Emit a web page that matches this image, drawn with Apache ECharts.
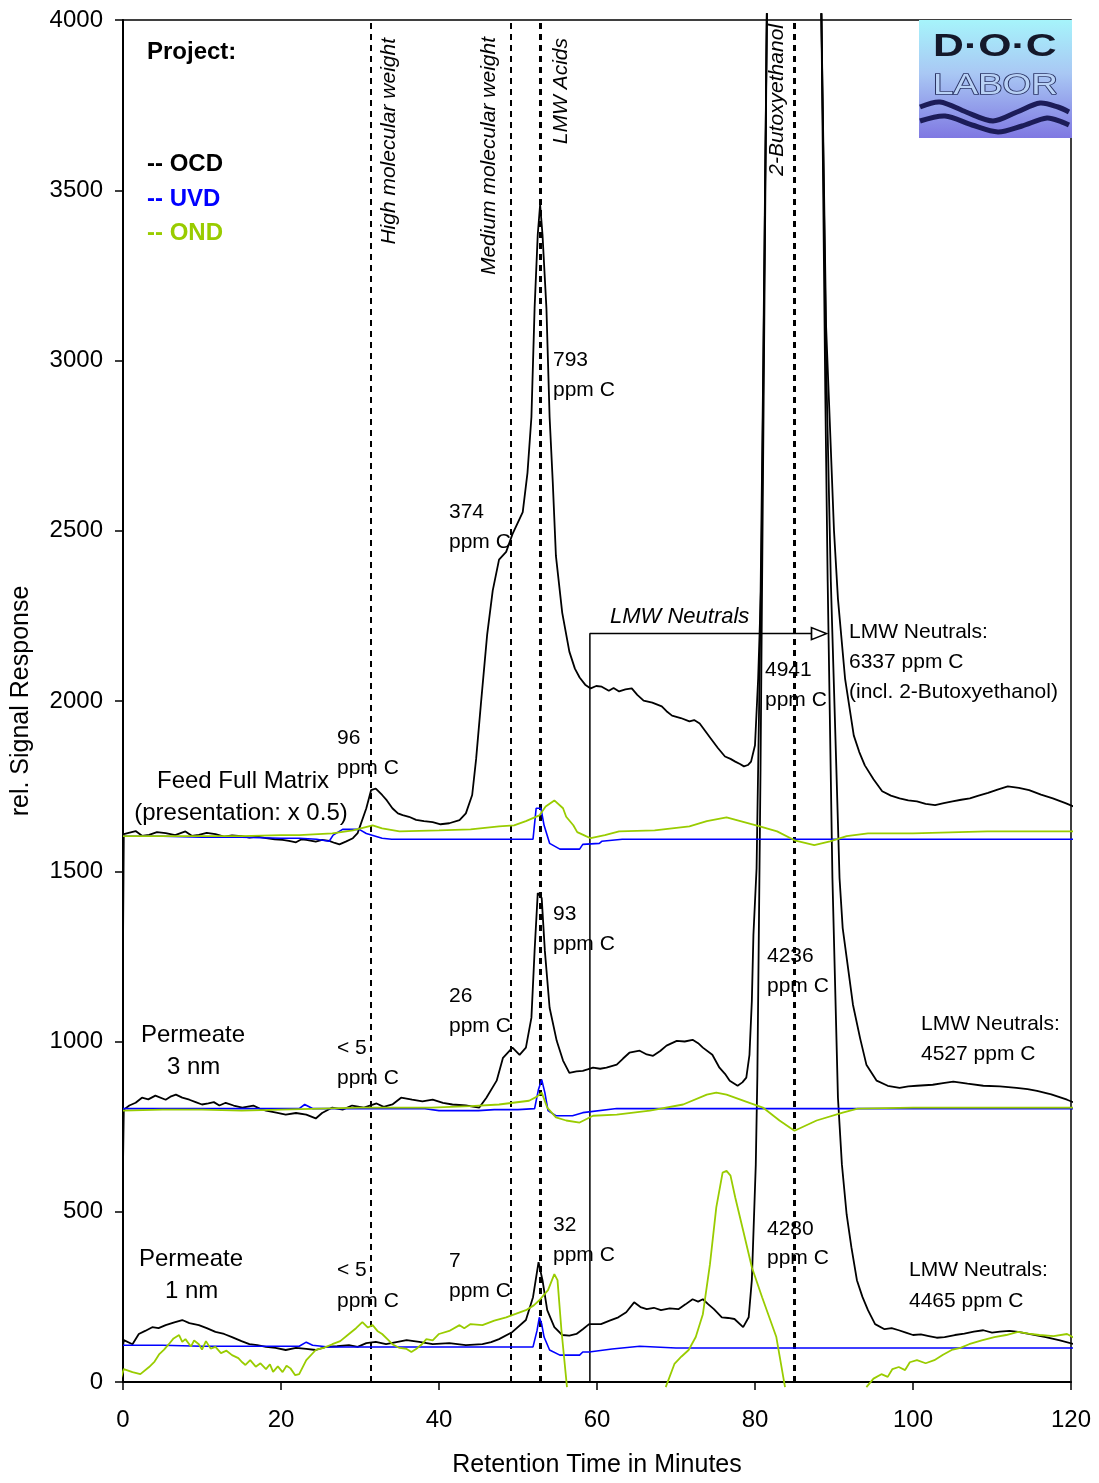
<!DOCTYPE html>
<html>
<head>
<meta charset="utf-8">
<script src="https://cdn.jsdelivr.net/npm/echarts@6/dist/echarts.min.js"></script>
<style>
html,body{margin:0;padding:0;background:#fff;}
#chart{width:1099px;height:1483px;}
</style>
</head>
<body>
<div id="chart"></div>
<script>
// ---- Data (retention time in minutes, relative signal response) ----
const xTicks = { min: 0, max: 120, step: 20 };
const yTicks = { min: 0, max: 4000, step: 500 };

// Feed full matrix (presentation x 0.5)
const feedOCD = [[-0.4,0],[0.1,1609],[1.6,1618],[2.4,1604],[3.3,1607],[4.3,1615],[5.4,1612],[6.6,1606],[7.9,1617],[8.7,1604],[9.6,1607],[10.6,1613],[11.7,1609],[12.8,1602],[13.8,1605],[15.0,1603],[16.0,1599],[17.0,1602],[18.1,1597],[19.2,1594],[20.2,1592],[21.0,1589],[21.9,1585],[22.6,1594],[23.2,1592],[24.4,1587],[25.2,1592],[26.1,1589],[26.8,1583],[27.4,1579],[28.2,1587],[29.1,1597],[29.7,1612],[30.8,1685],[31.4,1738],[32.0,1743],[32.8,1724],[33.4,1708],[34.1,1685],[34.8,1670],[35.4,1665],[36.2,1660],[37.1,1651],[38.1,1647],[39.2,1644],[40.2,1638],[41.3,1641],[42.6,1650],[43.4,1670],[44.2,1724],[44.7,1830],[45.3,1990],[46.1,2196],[46.8,2324],[47.6,2415],[48.5,2438],[49.3,2490],[50.6,2555],[51.2,2670],[51.7,2834],[52.1,3153],[52.5,3370],[52.8,3458],[53.1,3370],[53.6,3153],[54.0,2834],[54.4,2643],[54.8,2426],[55.6,2259],[56.5,2145],[57.2,2095],[57.8,2069],[58.5,2048],[59.2,2037],[59.9,2044],[60.6,2042],[61.5,2030],[62.1,2038],[62.8,2028],[63.6,2034],[64.4,2037],[65.1,2018],[65.9,2001],[67.0,1995],[68.2,1984],[68.8,1970],[69.5,1957],[70.6,1950],[71.7,1940],[72.3,1944],[73.0,1934],[73.7,1912],[74.4,1890],[75.3,1862],[76.2,1837],[76.9,1830],[77.5,1822],[78.1,1815],[78.6,1808],[79.1,1812],[79.5,1822],[80.0,1870],[80.4,2066],[80.8,2360],[81.5,4020],[81.6,null],[88.3,null],[88.4,4020],[89.0,3100],[90.0,2500],[90.5,2300],[91.4,2066],[92.5,1899],[93.2,1850],[93.9,1811],[95.0,1770],[96.1,1735],[97.2,1722],[98.3,1714],[99.4,1708],[100.5,1705],[101.6,1698],[102.8,1694],[103.9,1700],[105.0,1705],[106.1,1710],[107.2,1714],[108.3,1722],[109.5,1730],[110.7,1740],[112.0,1749],[113.4,1745],[114.7,1738],[116.2,1725],[117.7,1714],[119.3,1700],[120.9,1685]];
const feedUVD = [[0,1603],[5,1603],[10,1600],[15,1600],[20,1597],[22.3,1597],[24.5,1594],[26.1,1588],[26.6,1606],[27.8,1623],[29.9,1623],[30.8,1611],[32.8,1597],[34,1594],[40,1594],[45,1594],[50,1594],[51.9,1594],[52.3,1685],[52.9,1685],[53.3,1635],[54.0,1582],[55.3,1565],[57.8,1565],[58.2,1579],[60.3,1582],[60.6,1588],[63.2,1594],[70,1594],[80,1594],[90,1594],[100,1594],[110,1594],[120.9,1594]];
const feedOND = [[0,1603],[5,1603],[10,1603],[15,1603],[20,1606],[22.3,1606],[26.5,1611],[29.1,1620],[31.6,1635],[32.8,1626],[35.0,1617],[40,1620],[44,1623],[47.6,1632],[49.5,1635],[51.0,1647],[52.7,1664],[53.5,1690],[54.6,1708],[55.7,1685],[56.1,1660],[57.0,1635],[57.5,1615],[58.6,1603],[59.2,1597],[61,1606],[62.8,1617],[67.3,1620],[71.7,1632],[73.9,1647],[76.4,1658],[78.5,1645],[80.6,1632],[82.8,1617],[85.0,1591],[87.5,1577],[89.5,1588],[91.6,1603],[94.3,1611],[100,1611],[109.4,1617],[115,1617],[120.9,1617]];

// Permeate 3 nm
const perm3OCD = [[-0.4,0],[0.1,800],[0.8,812],[1.6,820],[2.4,835],[3.2,830],[4.1,841],[5.4,829],[6.0,838],[6.7,844],[7.5,835],[8.4,829],[9.2,822],[10.0,815],[10.8,818],[11.5,822],[12.2,812],[13.0,820],[14.0,812],[15.1,806],[16.5,812],[17.3,803],[18.1,797],[19.4,791],[20.6,785],[21.9,790],[23.2,785],[24.4,774],[25.2,790],[26.5,806],[27.8,800],[29.0,812],[30.5,806],[32.1,818],[33.0,808],[34.1,815],[35.2,835],[36.6,829],[37.9,824],[39.2,829],[40.5,820],[41.7,815],[43.4,812],[44.3,809],[45.1,806],[46.0,835],[47.3,885],[48.1,952],[49.3,982],[50.2,961],[51.0,982],[51.7,1070],[52.1,1266],[52.5,1436],[53.0,1421],[53.4,1266],[54.0,1099],[54.9,1002],[55.7,944],[56.5,908],[57.4,912],[58.2,914],[58.8,918],[59.5,923],[60.4,920],[61.2,923],[62.5,932],[63.3,950],[64.1,967],[65.4,973],[66.3,962],[67.1,958],[68.0,972],[68.8,988],[70.1,1002],[71.1,1000],[72.1,1005],[72.8,995],[73.4,982],[74.6,961],[75.5,923],[76.2,905],[76.8,885],[77.8,870],[78.4,880],[78.9,894],[79.3,961],[79.6,1119],[79.8,1313],[80.2,1509],[80.6,2100],[81.0,2900],[81.5,4020],[81.6,null],[88.3,null],[88.4,4020],[89.0,3000],[89.6,2350],[90.3,1800],[90.7,1480],[91.1,1333],[92.4,1108],[93.3,1010],[94.1,932],[95.4,885],[96.8,870],[98.3,864],[99.4,868],[100.5,870],[102.5,873],[103.8,878],[105.1,882],[106.9,876],[108.9,870],[111.0,868],[113.1,864],[114.5,860],[115.7,855],[117.5,845],[119.5,829],[121.0,815]];
const perm3UVD = [[0,803],[5,803],[10,803],[15,803],[20,803],[22.3,803],[23.0,815],[24.0,803],[30,803],[35,803],[38,803],[40,797],[45,797],[47,800],[50,800],[52.1,803],[52.6,860],[53.0,888],[53.4,850],[53.8,797],[54.8,782],[56.9,782],[58.2,791],[62.5,803],[70,803],[80,803],[90,803],[100,803],[110,803],[120.9,803]];
const perm3OND = [[0,797],[5,800],[10,800],[15,797],[20,800],[25,803],[30,806],[35,806],[39,806],[44,810],[47.6,815],[51.4,826],[52.4,838],[53.0,850],[53.7,806],[54.8,777],[56.1,768],[57.8,762],[59.5,782],[62.5,785],[66.7,797],[70.9,815],[73.9,844],[75.1,850],[76.4,844],[79.3,820],[81.0,806],[83.1,768],[85.0,738],[87.8,768],[91.1,791],[93,803],[100,806],[110,806],[120.9,806]];

// Permeate 1 nm
const perm1OCD = [[-0.6,0],[0.1,123],[1.2,111],[2.0,141],[2.8,150],[3.7,161],[4.5,158],[5.4,167],[6.5,175],[7.5,182],[8.4,173],[9.6,167],[10.6,158],[11.7,147],[12.8,141],[13.8,132],[15.0,120],[16.0,111],[17.0,108],[18.1,103],[19.3,100],[20.6,94],[21.9,100],[23.2,97],[24.4,94],[25.7,103],[27.1,105],[28.6,108],[29.7,103],[30.8,114],[32.0,118],[33.3,111],[34.6,117],[35.9,123],[37.5,118],[39.2,111],[41.3,114],[43.4,108],[45.5,111],[46.6,117],[47.6,126],[49.3,147],[51.0,182],[51.9,249],[52.6,352],[53.1,299],[53.7,211],[54.6,161],[55.6,138],[56.5,136],[57.4,141],[58.2,155],[59.0,170],[60.5,170],[61.6,180],[62.7,190],[63.7,205],[64.7,234],[65.5,220],[66.3,214],[67.2,218],[68.1,211],[69.2,216],[70.3,214],[71.2,228],[72.1,243],[72.8,236],[73.4,243],[74.1,228],[74.8,214],[75.8,190],[76.6,188],[77.4,185],[78.5,161],[79.2,190],[79.6,299],[80.1,639],[80.3,900],[80.7,1800],[81.1,2900],[81.5,4020],[81.6,null],[88.3,null],[88.4,4020],[88.9,2900],[89.2,2350],[89.8,1480],[90.5,835],[91.0,639],[91.6,492],[92.2,396],[92.9,299],[93.6,250],[94.3,211],[95.2,170],[96.4,155],[97.3,158],[98.2,152],[99.1,145],[100.0,138],[101.0,140],[102.0,135],[103.0,130],[104.0,132],[105.3,138],[106.5,142],[107.7,148],[108.9,152],[110.0,145],[111.0,148],[112.2,150],[113.3,147],[115.0,140],[116.8,132],[118.6,122],[120.4,111],[120.9,108]];
const perm1UVD = [[0,108],[5,108],[10,105],[15,105],[20,105],[22.3,105],[23.2,117],[24.0,108],[26,103],[30,103],[35,103],[40,103],[45,103],[50,103],[51.9,103],[52.4,150],[52.7,190],[53.0,170],[53.3,132],[54.0,94],[55.3,79],[57.8,79],[58.2,88],[59.0,88],[61.9,97],[65.4,105],[70,100],[80,100],[90,100],[100,100],[110,100],[120.9,100]];
const perm1OND = [[-0.4,0],[0.1,38],[1.2,29],[2.2,23],[3.3,44],[4.0,60],[4.6,82],[5.2,95],[5.8,111],[6.4,128],[7.1,138],[7.5,118],[7.9,126],[8.6,104],[9.0,122],[9.6,111],[10.0,95],[10.5,120],[11.1,98],[11.7,103],[12.4,85],[13.1,92],[13.8,79],[14.6,70],[15.1,58],[15.5,50],[16.1,64],[16.8,45],[17.4,55],[18.1,38],[18.6,52],[19.0,30],[19.6,46],[20.2,29],[20.7,48],[21.2,40],[21.8,20],[22.3,23],[23.2,64],[24.4,94],[25.4,100],[26.5,111],[27.5,120],[28.6,141],[29.5,158],[30.3,176],[31.0,160],[31.6,167],[32.2,150],[32.8,141],[33.5,125],[34.1,111],[35.0,100],[35.9,97],[36.5,88],[37.1,97],[37.8,110],[38.4,126],[39.2,122],[40.0,141],[41.3,150],[42.6,167],[43.2,158],[44.0,170],[45.5,167],[47.0,180],[48.5,190],[49.7,200],[51.0,211],[52.0,225],[52.7,240],[53.8,270],[54.6,317],[55.0,299],[55.5,152],[56.2,-15],[56.3,null],[68.6,null],[68.7,-15],[69.8,53],[70.7,75],[71.6,94],[72.5,132],[73.4,199],[74.3,346],[75.1,513],[75.9,615],[76.4,620],[76.9,606],[77.5,542],[78.5,445],[79.6,337],[80.9,249],[82.7,132],[83.8,-15],[83.9,null],[94.0,null],[94.1,-15],[95.0,10],[96.0,23],[96.8,15],[97.4,38],[98.2,44],[99.0,35],[99.6,58],[100.5,64],[101.6,55],[102.7,64],[103.8,80],[104.9,94],[106.0,100],[107.1,111],[108.7,122],[110.3,132],[111.8,138],[113.3,147],[114.6,142],[116.0,138],[117.8,135],[119.5,141],[120.9,123]];

// Fraction dividers (minutes) and LMW-neutrals bracket
const dividerTimes = [31.4, 49.1, 52.85, 85.0];
const lmwBracket = [[59.1, 0], [59.1, 2198], [88.1, 2198]];
const lmwArrowTip = [[88.1, 2198]];

// ---- Chart ----
const FONT = "'Liberation Sans', Arial, sans-serif";
const chart = echarts.init(document.getElementById('chart'));

function lineSeries(name, data, color, width, z) {
  return {
    name, type: 'line', data, showSymbol: false, symbol: 'none',
    clip: false, connectNulls: false, animation: false, z: z,
    lineStyle: { color, width }, emphasis: { disabled: true }
  };
}

function txt(text, x, y, size, opts) {
  opts = opts || {};
  const align = opts.align || 'left';
  return {
    type: 'text', x, y, z: 50, rotation: opts.rotation || 0,
    scaleX: opts.scaleX || 1,
    style: {
      text, fill: opts.color || '#000',
      font: (opts.style || '') + ' ' + (opts.weight || 'normal') + ' ' + size + 'px ' + FONT,
      align, textAlign: align, verticalAlign: 'middle', textVerticalAlign: 'middle',
      stroke: opts.stroke, lineWidth: opts.lineWidth
    }
  };
}

const graphics = [
  // legend block
  txt('Project:', 147, 52, 24, { weight: 'bold' }),
  txt('-- OCD', 147, 164, 24, { weight: 'bold' }),
  txt('-- UVD', 147, 199, 24, { weight: 'bold', color: '#0000ff' }),
  txt('-- OND', 147, 233, 24, { weight: 'bold', color: '#99cc00' }),
  // fraction labels (rotated)
  txt('High molecular weight', 389, 38, 21, { style: 'italic', align: 'right', rotation: Math.PI / 2 }),
  txt('Medium molecular weight', 489, 37, 21, { style: 'italic', align: 'right', rotation: Math.PI / 2 }),
  txt('LMW Acids', 561, 38, 21, { style: 'italic', align: 'right', rotation: Math.PI / 2 }),
  txt('2-Butoxyethanol', 777, 24, 21, { style: 'italic', align: 'right', rotation: Math.PI / 2 }),
  txt('LMW Neutrals', 610, 617, 22, { style: 'italic' }),
  // feed
  txt('793', 553, 360, 21), txt('ppm C', 553, 390, 21),
  txt('374', 449, 512, 21), txt('ppm C', 449, 542, 21),
  txt('96', 337, 738, 21), txt('ppm C', 337, 768, 21),
  txt('Feed Full Matrix', 243, 781, 24, { align: 'center' }),
  txt('(presentation: x 0.5)', 241, 813, 24, { align: 'center' }),
  txt('4941', 765, 670, 21), txt('ppm C', 765, 700, 21),
  txt('LMW Neutrals:', 849, 632, 21),
  txt('6337 ppm C', 849, 662, 21),
  txt('(incl. 2-Butoxyethanol)', 849, 692, 21),
  // permeate 3 nm
  txt('93', 553, 914, 21), txt('ppm C', 553, 944, 21),
  txt('4236', 767, 956, 21), txt('ppm C', 767, 986, 21),
  txt('26', 449, 996, 21), txt('ppm C', 449, 1026, 21),
  txt('< 5', 337, 1048, 21), txt('ppm C', 337, 1078, 21),
  txt('Permeate', 141, 1035, 24), txt('3 nm', 167, 1067, 24),
  txt('LMW Neutrals:', 921, 1024, 21), txt('4527 ppm C', 921, 1054, 21),
  // permeate 1 nm
  txt('32', 553, 1225, 21), txt('ppm C', 553, 1255, 21),
  txt('4280', 767, 1229, 21), txt('ppm C', 767, 1258, 21),
  txt('7', 449, 1261, 21), txt('ppm C', 449, 1291, 21),
  txt('< 5', 337, 1270, 21), txt('ppm C', 337, 1301, 21),
  txt('Permeate', 139, 1259, 24), txt('1 nm', 165, 1291, 24),
  txt('LMW Neutrals:', 909, 1270, 21), txt('4465 ppm C', 909, 1301, 21),
  // logo
  {
    type: 'rect', z: 60, shape: { x: 919, y: 20, width: 153, height: 118 },
    style: { fill: new echarts.graphic.LinearGradient(0, 0, 0, 1, [
      { offset: 0, color: '#a6f4fb' }, { offset: 0.45, color: '#a9c8f4' }, { offset: 1, color: '#7f78e2' }
    ]) }
  },
  Object.assign(txt('D·O·C', 933, 47, 31, { weight: 'bold', color: '#14182a', scaleX: 1.38 }), { z: 61 }),
  Object.assign(txt('LABOR', 933, 86, 29, { color: '#b9d2f6', stroke: '#2b3565', lineWidth: 1.6, scaleX: 1.27 }), { z: 61 }),
  {
    type: 'polyline', z: 61,
    shape: { points: [[920,107],[940,102],[966,112],[993,121],[1017,112],[1040,103],[1058,107],[1069,112]], smooth: 0.3 },
    style: { stroke: '#1c1c58', lineWidth: 5, fill: null }
  },
  {
    type: 'polyline', z: 61,
    shape: { points: [[920,121],[945,116],[972,125],[998,132],[1022,126],[1047,118],[1062,122],[1069,125]], smooth: 0.3 },
    style: { stroke: '#1c1c58', lineWidth: 5, fill: null }
  }
];

const option = {
  animation: false,
  backgroundColor: '#fff',
  grid: { left: 123, right: 28, top: 20, bottom: 98, show: true, borderColor: '#000', borderWidth: 1.5, containLabel: false },
  xAxis: {
    type: 'value', min: xTicks.min, max: xTicks.max, interval: xTicks.step,
    name: 'Retention Time in Minutes', nameLocation: 'middle', nameGap: 71,
    nameTextStyle: { fontSize: 25, color: '#000', fontFamily: FONT },
    axisLine: { show: true, onZero: false, lineStyle: { color: '#000', width: 2 } },
    axisTick: { show: true, inside: false, length: 8, lineStyle: { color: '#000', width: 1.5 } },
    axisLabel: { fontSize: 24, color: '#000', fontFamily: FONT, margin: 26, formatter: v => String(v) },
    splitLine: { show: false }
  },
  yAxis: {
    type: 'value', min: yTicks.min, max: yTicks.max, interval: yTicks.step,
    name: 'rel. Signal Response', nameLocation: 'middle', nameGap: 89,
    nameTextStyle: { fontSize: 25, color: '#000', fontFamily: FONT },
    axisLine: { show: true, lineStyle: { color: '#000', width: 2 } },
    axisTick: { show: true, inside: false, length: 8, lineStyle: { color: '#000', width: 1.5 } },
    axisLabel: { fontSize: 24, color: '#000', fontFamily: FONT, margin: 20, formatter: v => String(v) },
    splitLine: { show: false }
  },
  series: [
    {
      name: 'dividers', type: 'line', data: [], z: 3,
      markLine: {
        silent: true, symbol: ['none', 'none'], animation: false,
        label: { show: false },
        data: dividerTimes.map((t, i) => ({
          xAxis: t,
          lineStyle: { color: '#000', type: [6, 5], width: i >= 2 ? 3 : 2 }
        }))
      }
    },
    lineSeries('LMW bracket', lmwBracket, '#000', 1.5, 4),
    lineSeries('Feed OCD', feedOCD, '#000', 1.8, 5),
    lineSeries('Perm 3nm OCD', perm3OCD, '#000', 1.8, 5),
    lineSeries('Perm 1nm OCD', perm1OCD, '#000', 1.8, 5),
    lineSeries('Feed UVD', feedUVD, '#0000ff', 1.6, 6),
    lineSeries('Perm 3nm UVD', perm3UVD, '#0000ff', 1.6, 6),
    lineSeries('Perm 1nm UVD', perm1UVD, '#0000ff', 1.6, 6),
    lineSeries('Feed OND', feedOND, '#99cc00', 1.8, 7),
    lineSeries('Perm 3nm OND', perm3OND, '#99cc00', 1.8, 7),
    lineSeries('Perm 1nm OND', perm1OND, '#99cc00', 1.8, 7),
    {
      name: 'arrow', type: 'scatter', data: lmwArrowTip, z: 8, animation: false,
      symbol: 'triangle', symbolSize: [12, 15], symbolRotate: -90,
      itemStyle: { color: '#fff', borderColor: '#000', borderWidth: 1.5, opacity: 1 },
      emphasis: { disabled: true }
    }
  ],
  graphic: graphics
};
chart.setOption(option);
</script>
</body>
</html>
